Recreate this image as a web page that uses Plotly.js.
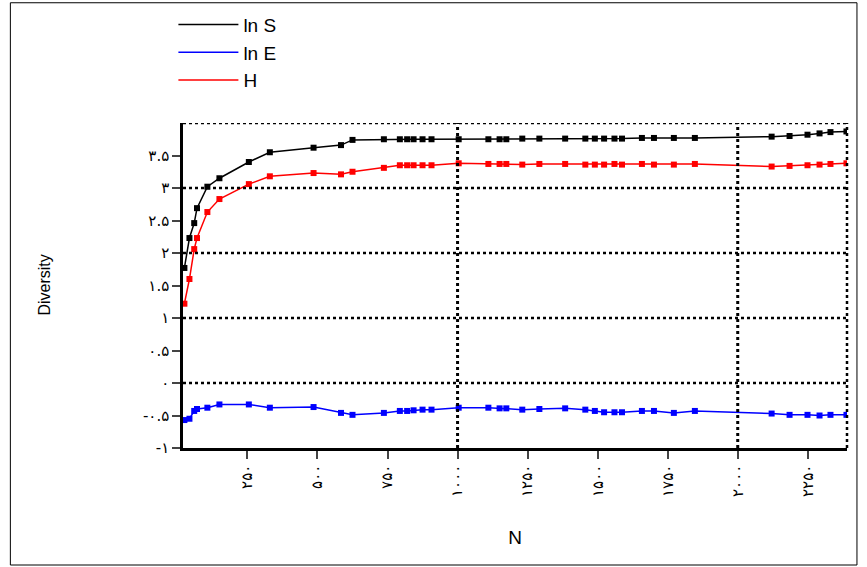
<!DOCTYPE html>
<html><head><meta charset="utf-8">
<script src="https://cdn.plot.ly/plotly-3.0.1.min.js"></script>
<style>body{margin:0}</style></head><body>
<div id="c" style="width:867px;height:567px"></div>
<script>
var N = [25,43,60,70,107,150,255,330,486,584,625,737,794,820,843,875,907,1004,1110,1150,1174,1231,1292,1384,1456,1490,1523,1560,1587,1658,1701,1772,1847,2121,2185,2249,2292,2331,2388];
var lnS = [1.77,2.23,2.46,2.69,3.02,3.15,3.40,3.55,3.62,3.66,3.74,3.75,3.75,3.75,3.75,3.75,3.75,3.75,3.75,3.75,3.75,3.76,3.76,3.76,3.76,3.76,3.76,3.76,3.76,3.77,3.77,3.77,3.77,3.79,3.80,3.82,3.84,3.86,3.87];
var lnE = [-0.57,-0.55,-0.43,-0.40,-0.38,-0.33,-0.33,-0.38,-0.37,-0.46,-0.49,-0.46,-0.43,-0.43,-0.42,-0.41,-0.41,-0.38,-0.38,-0.39,-0.39,-0.41,-0.40,-0.39,-0.41,-0.43,-0.45,-0.45,-0.45,-0.43,-0.43,-0.46,-0.43,-0.47,-0.49,-0.49,-0.50,-0.49,-0.49];
var H = [1.22,1.60,2.06,2.23,2.63,2.83,3.06,3.18,3.23,3.21,3.25,3.31,3.35,3.35,3.35,3.35,3.35,3.38,3.37,3.37,3.37,3.36,3.37,3.37,3.36,3.36,3.36,3.37,3.36,3.37,3.36,3.36,3.37,3.33,3.34,3.35,3.36,3.37,3.38];
var xTicks = [250,500,750,1000,1250,1500,1750,2000,2250];
var xLabels = ['۲۵۰','۵۰۰','۷۵۰','۱۰۰۰','۱۲۵۰','۱۵۰۰','۱۷۵۰','۲۰۰۰','۲۲۵۰'];
var yTicks = [-1,-0.5,0,0.5,1,1.5,2,2.5,3,3.5];
var yLabels = ['-۱','-۰.۵','۰','۰.۵','۱','۱.۵','۲','۲.۵','۳','۳.۵'];
var yGrid = [0,1,2,3,4];
var xGrid = [1000,2000];
var names = ['ln S','ln E','H'];
var colors = ['black','blue','red'];
function tr(y,c){return {x:N,y:y,type:'scatter',mode:'lines+markers',showlegend:false,line:{color:c,width:1.5},marker:{color:c,size:6,symbol:'square'}};}
var traces=[tr(lnS,colors[0]),tr(lnE,colors[1]),tr(H,colors[2])];
names.forEach(function(n,i){traces.push({x:[null],y:[null],name:n,type:'scatter',mode:'lines',line:{color:colors[i],width:1.5}});});
var shapes=[];
yGrid.forEach(function(v){shapes.push({type:'line',xref:'paper',x0:0,x1:1,yref:'y',y0:v,y1:v,line:{color:'black',width:2.5,dash:'dot'}});});
xGrid.forEach(function(v){shapes.push({type:'line',yref:'paper',y0:0,y1:1,xref:'x',x0:v,x1:v,line:{color:'black',width:3,dash:'dot'}});});
shapes.push({type:'line',yref:'paper',y0:0,y1:1,xref:'paper',x0:1,x1:1,line:{color:'black',width:2.5,dash:'dot'}});
shapes.push({type:'rect',xref:'paper',yref:'paper',x0:-0.26,x1:1.015,y0:-0.36,y1:1.37,line:{color:'black',width:1}});
var layout={width:867,height:567,margin:{l:183,r:20,t:123,b:119,autoexpand:false},
 paper_bgcolor:'white',plot_bgcolor:'white',font:{family:'Liberation Sans, Arial',color:'black'},
 legend:{xref:'container',yref:'container',x:0.2,y:0.99,xanchor:'left',yanchor:'top',font:{size:19},itemwidth:60,bgcolor:'rgba(0,0,0,0)',tracegroupgap:0},
 xaxis:{range:[20,2390],tickvals:xTicks,ticktext:xLabels,tickangle:-90,ticks:'outside',ticklen:8,tickwidth:2,showgrid:false,zeroline:false,showline:true,linewidth:2.5,linecolor:'black',tickfont:{size:15,family:'DejaVu Sans'},title:{text:'N',font:{size:19},standoff:35}},
 yaxis:{range:[-1,4],tickvals:yTicks,ticktext:yLabels,ticks:'outside',ticklen:8,tickwidth:2,showgrid:false,zeroline:false,showline:true,linewidth:2.5,linecolor:'black',tickfont:{size:15,family:'DejaVu Sans'}},
 annotations:[{text:'Diversity',xref:'paper',yref:'paper',x:-0.225,y:0.5,textangle:-90,showarrow:false,font:{size:16}}],
 shapes:shapes};
Plotly.newPlot('c',traces,layout,{displayModeBar:false});
</script></body></html>
